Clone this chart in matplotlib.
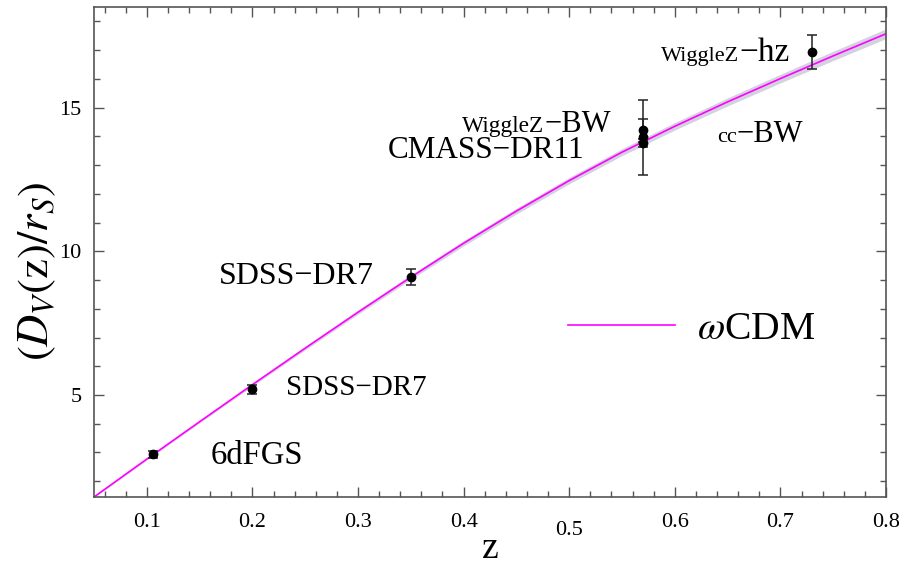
import matplotlib
matplotlib.use("Agg")
import matplotlib.pyplot as plt
from matplotlib.ticker import MultipleLocator, FixedLocator
from matplotlib.lines import Line2D
import matplotlib.transforms as mtransforms

plt.rcParams['font.family'] = ['Liberation Serif', 'DejaVu Serif']
plt.rcParams['mathtext.fontset'] = 'stix'

# model curve
z_model = [0.05, 0.10, 0.15, 0.20, 0.25, 0.30, 0.35, 0.40, 0.45, 0.50,
           0.55, 0.60, 0.65, 0.70, 0.75, 0.80]
dv_model = [1.45, 2.77, 4.07, 5.36, 6.63, 7.88, 9.10, 10.28, 11.40, 12.46,
            13.45, 14.35, 15.20, 16.01, 16.80, 17.57]
band_half = [0.02, 0.03, 0.04, 0.05, 0.06, 0.07, 0.08, 0.09, 0.10, 0.11,
             0.12, 0.13, 0.14, 0.15, 0.16, 0.17]

# BAO data
z_data = [0.106, 0.20, 0.35, 0.57, 0.57, 0.57, 0.73]
dv_data = [2.93, 5.20, 9.10, 13.96, 14.21, 13.77, 16.94]
dv_err = [0.13, 0.16, 0.28, 1.32, 0.40, 0.13, 0.58]

xticks = [0.1, 0.2, 0.3, 0.4, 0.5, 0.6, 0.7, 0.8]
xtick_labels = ['0.1', '0.2', '0.3', '0.4', '0.5', '0.6', '0.7', '0.8']
yticks = [5, 10, 15]

fig = plt.figure(figsize=(9.01, 5.74), dpi=100)
ax = fig.add_axes([0.1043, 0.1341, 0.8791, 0.8537])

lo = [d - b for d, b in zip(dv_model, band_half)]
hi = [d + b for d, b in zip(dv_model, band_half)]
ax.fill_between(z_model, lo, hi, color='#d2d2e0', lw=0, zorder=1)
ax.plot(z_model, dv_model, color='#ff00ff', lw=1.2, zorder=2)

ax.errorbar(z_data, dv_data, yerr=dv_err, fmt='o', color='black', ms=6,
            ecolor='#222222', elinewidth=1.1, capsize=3.8, capthick=1.1, zorder=3)

ax.set_xlim(0.05, 0.8)
ax.set_ylim(1.45, 18.5)

frame_c = '#555555'
for s in ax.spines.values():
    s.set_color(frame_c)
    s.set_linewidth(1.2)

ax.xaxis.set_major_locator(FixedLocator(xticks))
ax.xaxis.set_minor_locator(MultipleLocator(0.02))
ax.yaxis.set_major_locator(FixedLocator(yticks))
ax.yaxis.set_minor_locator(MultipleLocator(1))
ax.tick_params(which='both', direction='in', top=True, right=True, color=frame_c, width=1.0)
ax.tick_params(which='major', length=7)
ax.tick_params(which='minor', length=4)
ax.tick_params(axis='y', labelsize=16, pad=9)
ax.set_xticklabels([])

# x tick labels (0.5 sits slightly lower as in the reference)
trans = mtransforms.blended_transform_factory(ax.transData, ax.transAxes)
for xt, lab in zip(xticks, xtick_labels):
    off = -0.068 if lab == '0.5' else -0.053
    ax.text(xt, off, lab, transform=trans, ha='center', va='center', fontsize=16)

ax.text(0.5, -0.106, 'z', transform=ax.transAxes, ha='center', va='center', fontsize=27)
ax.text(-0.071, 0.46, r'$(D_V(\mathrm{z})/r_S)$', transform=ax.transAxes, rotation=90,
        ha='center', va='center', fontsize=32)

ax.text(0.160, 2.90, '6dFGS', fontsize=23.5, va='center', ha='left')
ax.text(0.232, 5.24, 'SDSS\u2212DR7', fontsize=21, va='center', ha='left')
ax.text(0.168, 9.13, 'SDSS\u2212DR7', fontsize=23, va='center', ha='left')
ax.text(0.328, 13.50, 'CMASS\u2212DR11', fontsize=22.4, va='center', ha='left')
# WiggleZ-BW
ax.text(0.4765, 14.15, '\u2212BW', fontsize=22, va='baseline', ha='left')
ax.text(0.4765, 14.15, 'WiggleZ', fontsize=16.8, va='baseline', ha='right')
# cc-BW
ax.text(0.6588, 13.82, '\u2212BW', fontsize=22, va='baseline', ha='left')
ax.text(0.6588, 13.82, 'cc', fontsize=16, va='baseline', ha='right')
# WiggleZ-hz
ax.text(0.661, 16.63, '\u2212hz', fontsize=24, va='baseline', ha='left')
ax.text(0.661, 16.63, 'WiggleZ', fontsize=16, va='baseline', ha='right')

# legend
leg_handle = Line2D([], [], color='#ff00ff', lw=1.2)
ax.legend([leg_handle], [r'$\omega$CDM'], loc='center left', bbox_to_anchor=(0.554, 0.342),
          frameon=False, fontsize=28.5, handlelength=2.7, handletextpad=0.55)

fig.savefig('out.png', dpi=100)
